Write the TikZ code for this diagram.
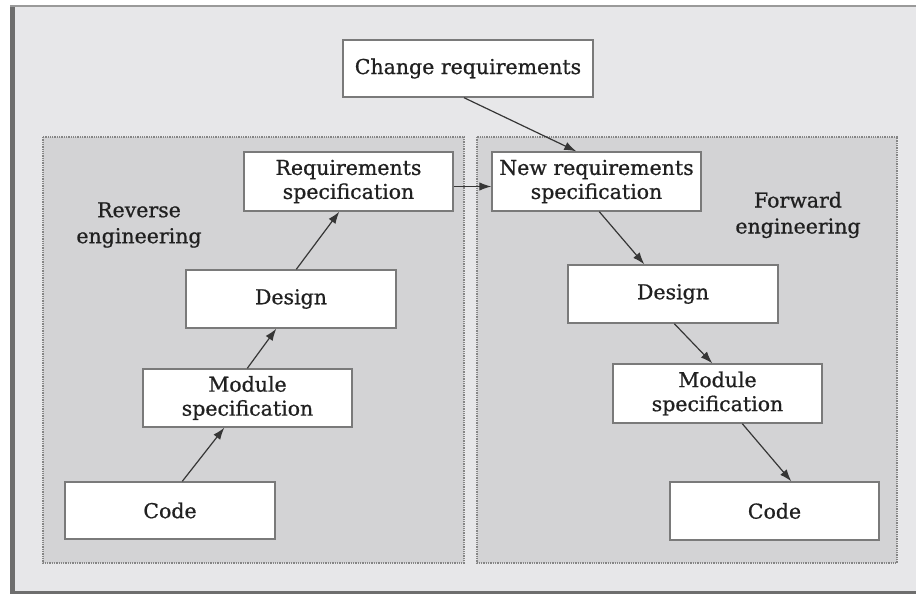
\documentclass[tikz,border=0pt]{standalone}
\usepackage{fontspec}
\setmainfont{DejaVu Serif}
\newfontfamily\diagfont[FakeBold=0.8]{DejaVu Serif}
\usetikzlibrary{arrows.meta,calc}
\definecolor{outerbg}{HTML}{E7E7E9}
\definecolor{panelbg}{HTML}{D3D3D5}
\definecolor{framegray}{HTML}{6E6E6E}
\definecolor{boxedge}{HTML}{7A7A7A}
\definecolor{dotgray}{HTML}{858585}
\definecolor{inkc}{HTML}{202020}
\tikzset{
  box/.style={draw=boxedge, line width=1.4pt, fill=white, align=center,
    inner sep=0pt, text=inkc,
    font=\diagfont\fontsize{20.5}{24}\selectfont},
  lbl/.style={align=center, text=inkc, inner sep=0pt,
    font=\diagfont\fontsize{20.5}{26}\selectfont},
  panel/.style={fill=panelbg, draw=dotgray, line width=1.3pt, densely dotted},
  arr/.style={draw=inkc!90, line width=1.2pt, -{Latex[length=12pt,width=8.5pt]}}
}
\begin{document}
\begin{tikzpicture}[x=1pt,y=-1pt]
\useasboundingbox (0,0) rectangle (916,594);
% outer frame
\fill[outerbg] (10,5) rectangle (916,594);
\fill[framegray] (10,5) rectangle (15,594);
\fill[framegray!70] (10,5) rectangle (916,7);
\fill[framegray] (10,591) rectangle (916,594);
% panels
\path[panel] (43,137) rectangle (464,563);
\path[panel] (477,137) rectangle (897,563);
% nodes
\node[box, minimum width=250pt, minimum height=57pt] (chg) at (468,68.5) {Change requirements};
\node[box, minimum width=209pt, minimum height=59pt] (req) at (348.5,181.5) {Requirements\\specification};
\node[box, minimum width=209pt, minimum height=59pt] (nreq) at (596.5,181.5) {New requirements\\specification};
\node[box, minimum width=210pt, minimum height=58pt] (dL) at (291,299) {Design};
\node[box, minimum width=209pt, minimum height=58pt] (mL) at (247.5,398) {Module\\specification};
\node[box, minimum width=210pt, minimum height=57pt] (cL) at (170,510.5) {Code};
\node[box, minimum width=210pt, minimum height=58pt] (dR) at (673,294) {Design};
\node[box, minimum width=209pt, minimum height=59pt] (mR) at (717.5,393.5) {Module\\specification};
\node[box, minimum width=209pt, minimum height=58pt] (cR) at (774.5,511) {Code};
\node[lbl] (rev) at (139,225) {Reverse\\engineering};
\node[lbl] (fwd) at (798,215) {Forward\\engineering};
% connectors
\draw[arr] ($(cL.north west)+(118,0)$) -- ($(mL.south west)+(82,0)$);
\draw[arr] ($(mL.north west)+(105,0)$) -- ($(dL.south west)+(91,0)$);
\draw[arr] ($(dL.north west)+(111,0)$) -- ($(req.south west)+(96,0)$);
\draw[arr] ($(req.east)+(0,5)$) -- ($(nreq.west)+(0,5)$);
\draw[arr] ($(chg.south)+(-4,0)$) -- ($(nreq.north west)+(85,0)$);
\draw[arr] ($(nreq.south west)+(108,0)$) -- ($(dR.north west)+(77,0)$);
\draw[arr] ($(dR.south west)+(107,0)$) -- ($(mR.north west)+(100,0)$);
\draw[arr] ($(mR.south west)+(130,0)$) -- ($(cR.north west)+(122,0)$);
\end{tikzpicture}
\end{document}
